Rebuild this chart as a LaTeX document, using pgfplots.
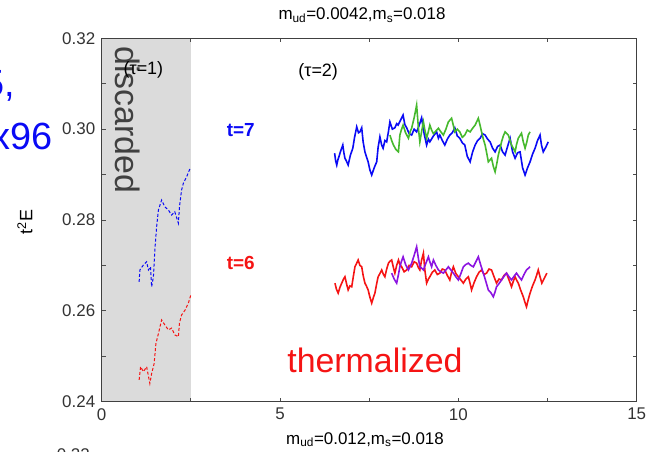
\documentclass[border=0pt]{standalone}
\usepackage{pgfplots}
\pgfplotsset{compat=1.18}
\usepackage{fontspec}
\setmainfont{Liberation Sans}
\definecolor{cblue}{RGB}{10,10,245}
\definecolor{cgreen}{RGB}{70,185,45}
\definecolor{cred}{RGB}{245,20,20}
\definecolor{cpurple}{RGB}{140,20,225}
\begin{document}
\begin{tikzpicture}
\useasboundingbox (0,0) rectangle (646bp,452bp);
\clip (0,0) rectangle (646bp,452bp);
\begin{axis}[
  at={(101.7bp,50.3bp)}, anchor=south west,
  scale only axis, width=535bp, height=363.4bp,
  xmin=0, xmax=15, ymin=0.24, ymax=0.32,
  xtick={0,2.5,5,7.5,10,12.5,15}, xticklabels={0,,5,,10,,15},
  ytick={0.24,0.25,0.26,0.27,0.28,0.29,0.30,0.31,0.32},
  yticklabels={0.24,,0.26,,0.28,,0.30,,0.32},
  tick align=inside, major tick length=4bp,
  tick style={black!70, line width=0.8bp},
  axis line style={black!75, line width=1.2bp},
  ticklabel style={font=\fontsize{17}{20}\selectfont, text=black!80},
  /pgf/number format/assume math mode=true,
  xticklabel shift=3bp, yticklabel shift=3bp,
  clip=false, axis on top,
]
\fill[black!14] (axis cs:0,0.24) rectangle (axis cs:2.5,0.32);
% dashed (discarded) series
\addplot[cblue, dashed, line width=1bp, dash pattern=on 3bp off 2bp] coordinates {
(1.05,0.2664)(1.07,0.2690)(1.17,0.2701)(1.26,0.2708)(1.31,0.2690)(1.37,0.2697)(1.40,0.2653)(1.45,0.2675)(1.49,0.2734)(1.54,0.2785)(1.59,0.2822)(1.68,0.2844)(1.77,0.2829)(1.87,0.2822)(1.96,0.2811)(2.05,0.2818)(2.15,0.2793)(2.18,0.2829)(2.24,0.2866)(2.29,0.2881)(2.38,0.2895)(2.48,0.2914)
};
\addplot[cred, dashed, line width=1bp, dash pattern=on 3bp off 2bp] coordinates {
(1.05,0.2448)(1.09,0.2477)(1.17,0.2466)(1.26,0.2477)(1.35,0.2440)(1.40,0.2462)(1.47,0.2484)(1.52,0.2528)(1.59,0.2550)(1.68,0.2580)(1.77,0.2569)(1.87,0.2558)(1.96,0.2562)(2.05,0.2547)(2.15,0.2543)(2.18,0.2573)(2.24,0.2591)(2.34,0.2602)(2.43,0.2617)(2.50,0.2635)
};
% t=7 blue
\addplot[cblue, line width=1.6bp] coordinates {
(6.53,0.2947)(6.56,0.2930)(6.59,0.2921)(6.62,0.2932)(6.65,0.2939)(6.70,0.2952)(6.76,0.2965)(6.79,0.2948)(6.82,0.2936)(6.86,0.2930)(6.91,0.2921)(6.97,0.2942)(7.04,0.2958)(7.09,0.2982)(7.15,0.3005)(7.20,0.2992)(7.24,0.2994)(7.29,0.3003)(7.33,0.2972)(7.38,0.2950)(7.42,0.2940)(7.47,0.2928)(7.52,0.2910)(7.57,0.2899)(7.64,0.2915)(7.71,0.2928)(7.75,0.2960)(7.80,0.2983)(7.85,0.2965)(7.89,0.2958)(7.94,0.2975)(7.99,0.2972)(8.04,0.2995)(8.08,0.3016)(8.15,0.3000)(8.22,0.3003)(8.27,0.3012)(8.31,0.3009)(8.38,0.3020)(8.45,0.3031)(8.50,0.3010)(8.55,0.3003)(8.62,0.2990)(8.69,0.2987)(8.76,0.3000)(8.83,0.2994)(8.90,0.3008)(8.97,0.3025)(9.04,0.2990)(9.11,0.2965)(9.16,0.2978)(9.20,0.2972)(9.30,0.2985)(9.39,0.2994)(9.44,0.2980)(9.48,0.2987)(9.55,0.2975)(9.62,0.2965)(9.69,0.2978)(9.76,0.2987)(9.83,0.2992)(9.90,0.3003)(9.97,0.2985)(10.04,0.2980)(10.11,0.2970)(10.18,0.2965)(10.25,0.2940)(10.33,0.2928)(10.40,0.2950)(10.47,0.2965)(10.54,0.2975)(10.61,0.2980)(10.68,0.2990)(10.75,0.2987)(10.82,0.2978)(10.89,0.2972)(10.96,0.2958)(11.03,0.2950)(11.10,0.2962)(11.17,0.2965)(11.24,0.2950)(11.31,0.2943)(11.38,0.2962)(11.45,0.2980)(11.52,0.2950)(11.59,0.2936)(11.66,0.2948)(11.73,0.2950)(11.80,0.2915)(11.87,0.2899)(11.94,0.2915)(12.01,0.2928)(12.08,0.2945)(12.15,0.2958)(12.22,0.2975)(12.29,0.2987)(12.33,0.2965)(12.38,0.2950)(12.45,0.2960)(12.52,0.2972)
};
% green
\addplot[cgreen, line width=1.6bp] coordinates {
(8.08,0.2987)(8.13,0.2975)(8.18,0.2965)(8.25,0.2955)(8.32,0.2950)(8.36,0.2987)(8.40,0.2998)(8.45,0.3009)(8.52,0.2992)(8.60,0.2980)(8.65,0.2995)(8.69,0.3002)(8.76,0.3025)(8.83,0.3053)(8.88,0.3002)(8.92,0.2972)(8.97,0.2995)(9.02,0.3016)(9.06,0.2998)(9.11,0.2980)(9.16,0.2995)(9.20,0.3009)(9.25,0.2998)(9.30,0.2990)(9.37,0.2996)(9.44,0.3002)(9.51,0.2994)(9.58,0.2987)(9.65,0.3000)(9.72,0.3016)(9.81,0.3024)(9.86,0.3008)(9.90,0.2994)(9.97,0.3000)(10.04,0.2994)(10.11,0.2982)(10.18,0.2987)(10.25,0.2998)(10.33,0.2994)(10.40,0.3002)(10.47,0.3009)(10.56,0.3024)(10.61,0.3008)(10.65,0.2994)(10.70,0.2978)(10.75,0.2965)(10.80,0.2945)(10.84,0.2928)(10.93,0.2936)(10.98,0.2918)(11.03,0.2906)(11.08,0.2925)(11.12,0.2943)(11.17,0.2958)(11.21,0.2972)(11.26,0.2985)(11.31,0.2994)(11.40,0.2987)(11.45,0.2975)(11.49,0.2965)(11.54,0.2958)(11.59,0.2950)(11.63,0.2966)(11.68,0.2980)(11.77,0.2991)(11.82,0.2972)(11.87,0.2958)(11.92,0.2972)(11.96,0.2987)(12.01,0.2994)
};
% t=6 red
\addplot[cred, line width=1.6bp] coordinates {
(6.54,0.2661)(6.58,0.2648)(6.63,0.2639)(6.68,0.2652)(6.73,0.2661)(6.78,0.2670)(6.82,0.2675)(6.87,0.2658)(6.91,0.2646)(6.96,0.2655)(7.01,0.2653)(7.06,0.2678)(7.10,0.2697)(7.15,0.2705)(7.19,0.2712)(7.24,0.2700)(7.29,0.2697)(7.33,0.2678)(7.38,0.2661)(7.42,0.2655)(7.47,0.2646)(7.52,0.2630)(7.57,0.2617)(7.62,0.2630)(7.66,0.2639)(7.71,0.2660)(7.75,0.2675)(7.80,0.2682)(7.85,0.2690)(7.90,0.2680)(7.94,0.2675)(7.99,0.2692)(8.04,0.2705)(8.08,0.2709)(8.13,0.2712)(8.18,0.2695)(8.22,0.2683)(8.27,0.2700)(8.32,0.2712)(8.36,0.2702)(8.41,0.2697)(8.48,0.2686)(8.55,0.2690)(8.62,0.2700)(8.69,0.2697)(8.76,0.2708)(8.83,0.2705)(8.88,0.2695)(8.92,0.2690)(8.97,0.2712)(9.02,0.2727)(9.06,0.2690)(9.11,0.2661)(9.16,0.2670)(9.20,0.2675)(9.27,0.2685)(9.34,0.2690)(9.41,0.2680)(9.48,0.2683)(9.55,0.2692)(9.62,0.2690)(9.69,0.2678)(9.76,0.2668)(9.81,0.2685)(9.86,0.2697)(9.93,0.2682)(10.00,0.2675)(10.07,0.2668)(10.14,0.2661)(10.21,0.2670)(10.28,0.2675)(10.33,0.2660)(10.37,0.2646)(10.44,0.2662)(10.51,0.2675)(10.58,0.2685)(10.65,0.2690)(10.72,0.2680)(10.79,0.2683)(10.86,0.2692)(10.93,0.2690)(11.00,0.2675)(11.07,0.2661)(11.14,0.2670)(11.21,0.2668)(11.28,0.2678)(11.35,0.2683)(11.42,0.2668)(11.49,0.2653)(11.54,0.2665)(11.59,0.2675)(11.63,0.2668)(11.68,0.2661)(11.75,0.2645)(11.82,0.2631)(11.87,0.2618)(11.91,0.2609)(11.96,0.2625)(12.01,0.2639)(12.08,0.2655)(12.15,0.2668)(12.20,0.2680)(12.24,0.2690)(12.29,0.2675)(12.34,0.2661)(12.41,0.2672)(12.48,0.2683)
};
% purple
\addplot[cpurple, line width=1.6bp] coordinates {
(8.13,0.2683)(8.20,0.2670)(8.27,0.2661)(8.32,0.2680)(8.36,0.2697)(8.40,0.2708)(8.45,0.2719)(8.52,0.2702)(8.60,0.2690)(8.65,0.2698)(8.69,0.2705)(8.76,0.2722)(8.83,0.2741)(8.88,0.2715)(8.92,0.2697)(8.97,0.2694)(9.02,0.2690)(9.09,0.2705)(9.16,0.2719)(9.20,0.2708)(9.25,0.2697)(9.30,0.2712)(9.37,0.2700)(9.44,0.2690)(9.51,0.2686)(9.58,0.2683)(9.65,0.2690)(9.72,0.2697)(9.79,0.2690)(9.86,0.2683)(9.93,0.2675)(10.00,0.2668)(10.07,0.2682)(10.14,0.2697)(10.21,0.2702)(10.28,0.2705)(10.35,0.2700)(10.42,0.2697)(10.49,0.2708)(10.56,0.2719)(10.63,0.2700)(10.70,0.2683)(10.77,0.2665)(10.84,0.2646)(10.91,0.2640)(10.98,0.2631)(11.03,0.2642)(11.07,0.2653)(11.14,0.2660)(11.21,0.2668)(11.28,0.2676)(11.35,0.2683)(11.42,0.2675)(11.49,0.2668)(11.56,0.2676)(11.63,0.2683)(11.70,0.2675)(11.77,0.2668)(11.84,0.2680)(11.91,0.2690)(12.01,0.2697)
};
\node[rotate=-90, font=\fontsize{34}{36}\selectfont, text=black!75] at (axis cs:0.74,0.302) {discarded};
\node[font=\fontsize{18}{21}\selectfont] at (axis cs:1.17,0.3131) {(τ=1)};
\node[font=\fontsize{18}{21}\selectfont] at (axis cs:6.07,0.3126) {(τ=2)};
\node[font=\bfseries\fontsize{19}{22}\selectfont, text=cblue] at (axis cs:3.90,0.2998) {t=7};
\node[font=\bfseries\fontsize{19}{22}\selectfont, text=cred] at (axis cs:3.90,0.2705) {t=6};
\node[font=\fontsize{34}{36}\selectfont, text=cred] at (axis cs:7.66,0.2492) {thermalized};
\end{axis}
\node[anchor=base, font=\fontsize{17}{20}\selectfont] at (362bp,432bp) {m\textsubscript{ud}=0.0042,m\textsubscript{s}=0.018};
\node[anchor=base, font=\fontsize{17}{20}\selectfont] at (365bp,8bp) {m\textsubscript{ud}=0.012,m\textsubscript{s}=0.018};
\node[rotate=90, font=\fontsize{18}{21}\selectfont] at (25bp,230bp) {t\textsuperscript{2}E};
\node[anchor=base east, inner sep=0, font=\fontsize{38}{40}\selectfont, text=cblue] at (15bp,355bp) {5,};
\node[anchor=base east, inner sep=0, font=\fontsize{38}{40}\selectfont, text=cblue] at (53bp,302bp) {x96};
\node[anchor=north east, inner sep=0, font=\fontsize{17}{20}\selectfont, text=black!80] at (90bp,4bp) {0.22};
\end{tikzpicture}
\end{document}
